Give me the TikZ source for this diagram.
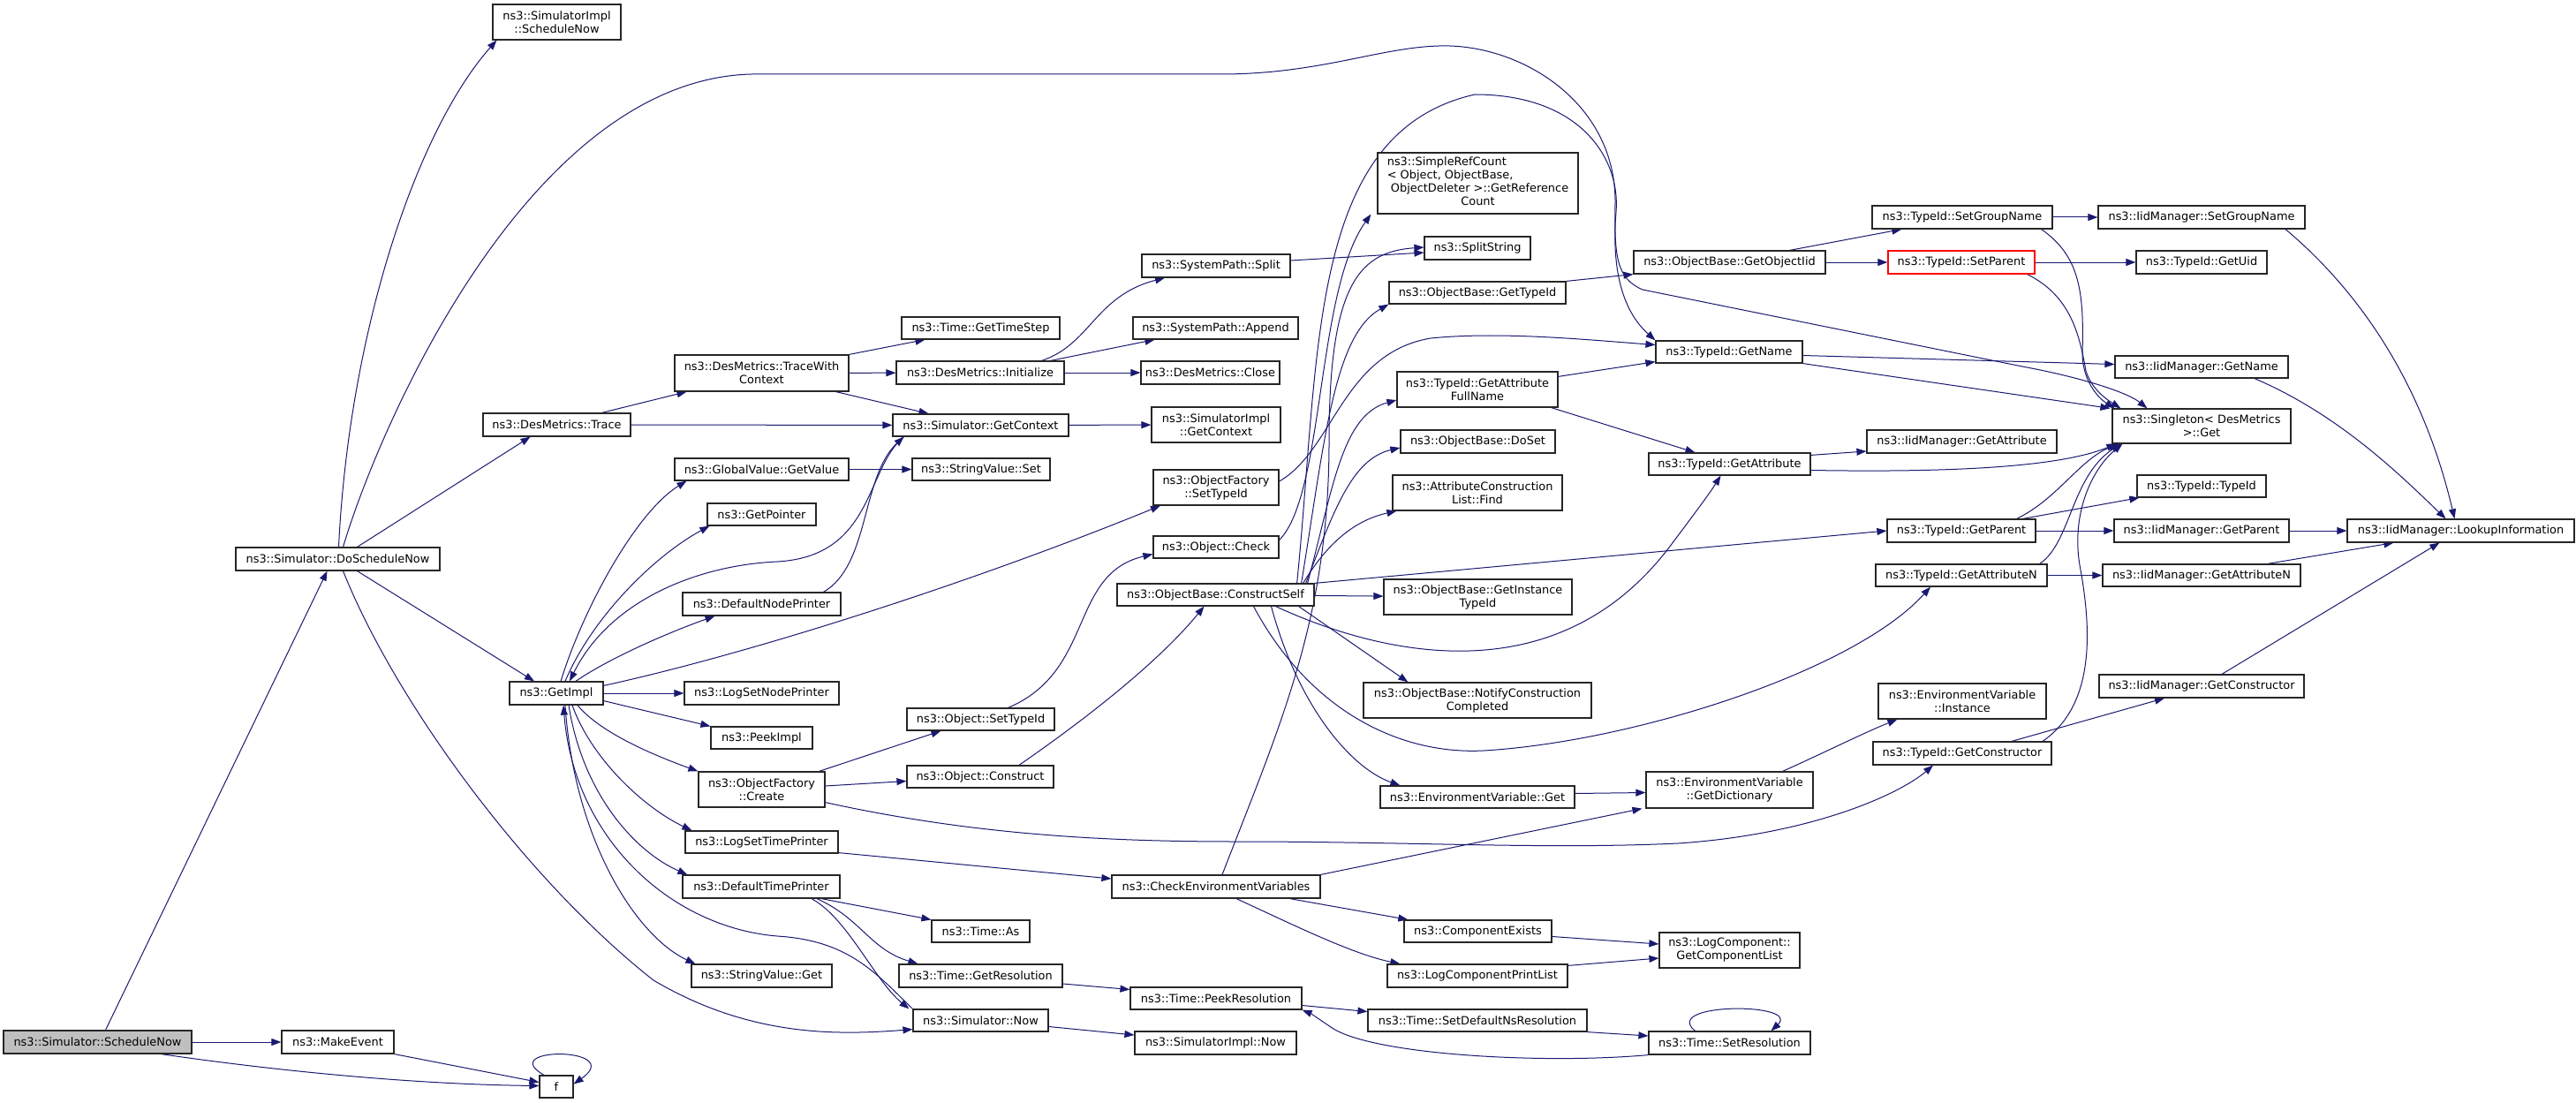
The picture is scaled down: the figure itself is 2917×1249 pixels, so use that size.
\documentclass[tikz,border=0pt]{standalone}
\usepackage{fontspec}
\newfontfamily\nodefont{DejaVu Sans}
\usetikzlibrary{arrows.meta,calc}
\definecolor{ecol}{HTML}{191970}
\definecolor{gfill}{HTML}{BFBFBF}
\pgfdeclarelayer{bg}
\pgfsetlayers{bg,main}
\tikzset{
  box/.style={draw=black!85, line width=1.2pt, fill=white, inner sep=1pt, align=center,
    font={\nodefont\fontsize{12.9}{15}\selectfont}},
  edg/.style={draw=ecol, line width=1pt, -{Triangle[length=11pt,width=8pt]}}
}
\newcommand\bx[7][]{\node[box,#1,minimum width={#5-#3},minimum height={#6-#4}] (#2) at ({(#3+#5)/2},{(#4+#6)/2}) {#7};}
\begin{document}
\begin{tikzpicture}[x=1pt,y=-1pt]
\useasboundingbox (0,0) rectangle (2917,1249);
% nodes
\bx[fill=gfill]{sn}{4}{1167}{217}{1193}{ns3::Simulator::ScheduleNow}
\bx{dsn}{267}{620}{498}{646}{ns3::Simulator::DoScheduleNow}
\bx{sisn}{558}{5}{703}{45}{ns3::SimulatorImpl\\::ScheduleNow}
\bx{trace}{547}{468}{714}{494}{ns3::DesMetrics::Trace}
\bx{getimpl}{577}{772}{683}{798}{ns3::GetImpl}
\bx{mkev}{319}{1167}{446}{1193}{ns3::MakeEvent}
\bx{fnode}{611}{1218}{649}{1243}{f}
\bx{twc}{764}{402}{961}{443}{ns3::DesMetrics::TraceWith\\Context}
\bx{gts}{1021}{359}{1200}{384}{ns3::Time::GetTimeStep}
\bx{init}{1015}{409}{1205}{435}{ns3::DesMetrics::Initialize}
\bx{split}{1293}{288}{1461}{314}{ns3::SystemPath::Split}
\bx{append}{1283}{359}{1470}{384}{ns3::SystemPath::Append}
\bx{close}{1292}{409}{1449}{435}{ns3::DesMetrics::Close}
\bx{sgc}{1011}{469}{1210}{494}{ns3::Simulator::GetContext}
\bx{sigc}{1304}{461}{1450}{501}{ns3::SimulatorImpl\\::GetContext}
\bx{gvgv}{764}{519}{961}{544}{ns3::GlobalValue::GetValue}
\bx{svs}{1033}{519}{1189}{544}{ns3::StringValue::Set}
\bx{gp}{801}{570}{924}{595}{ns3::GetPointer}
\bx{ofst}{1306}{532}{1448}{572}{ns3::ObjectFactory\\::SetTypeId}
\bx{ochk}{1306}{607}{1448}{632}{ns3::Object::Check}
\bx{cs}{1265}{661}{1488}{686}{ns3::ObjectBase::ConstructSelf}
\bx{dnp}{773}{671}{952}{697}{ns3::DefaultNodePrinter}
\bx{lsnp}{775}{772}{950}{798}{ns3::LogSetNodePrinter}
\bx{ost}{1027}{802}{1194}{827}{ns3::Object::SetTypeId}
\bx{peek}{805}{823}{920}{848}{ns3::PeekImpl}
\bx{ofc}{791}{874}{934}{914}{ns3::ObjectFactory\\::Create}
\bx{oc}{1027}{867}{1193}{892}{ns3::Object::Construct}
\bx{lstp}{776}{941}{949}{966}{ns3::LogSetTimePrinter}
\bx{dtp}{773}{991}{951}{1017}{ns3::DefaultTimePrinter}
\bx{cev}{1259}{991}{1495}{1017}{ns3::CheckEnvironmentVariables}
\bx{tas}{1055}{1042}{1166}{1067}{ns3::Time::As}
\bx{svg}{783}{1092}{942}{1118}{ns3::StringValue::Get}
\bx{tgr}{1018}{1092}{1203}{1118}{ns3::Time::GetResolution}
\bx{tpr}{1280}{1118}{1474}{1143}{ns3::Time::PeekResolution}
\bx{snow}{1034}{1143}{1187}{1168}{ns3::Simulator::Now}
\bx{sinow}{1285}{1168}{1468}{1194}{ns3::SimulatorImpl::Now}
\bx{src}{1560}{173}{1787}{242}{\begin{tabular}{@{}l@{}}ns3::SimpleRefCount\\{}< Object, ObjectBase,\\ \ ObjectDeleter >::GetReference\\\multicolumn{1}{@{}c@{}}{Count}\end{tabular}}
\bx{ss}{1613}{268}{1733}{294}{ns3::SplitString}
\bx{obgt}{1573}{319}{1773}{344}{ns3::ObjectBase::GetTypeId}
\bx{goi}{1850}{284}{2067}{310}{ns3::ObjectBase::GetObjectIid}
\bx{tsgn}{2120}{233}{2324}{259}{ns3::TypeId::SetGroupName}
\bx[draw=red]{tsp}{2138}{284}{2304}{310}{ns3::TypeId::SetParent}
\bx{tgn}{1875}{386}{2041}{411}{ns3::TypeId::GetName}
\bx{isgn}{2376}{233}{2610}{259}{ns3::IidManager::SetGroupName}
\bx{tgu}{2419}{284}{2567}{310}{ns3::TypeId::GetUid}
\bx{ign}{2395}{403}{2591}{428}{ns3::IidManager::GetName}
\bx{sing}{2392}{463}{2594}{502}{ns3::Singleton< DesMetrics\\>::Get}
\bx{iga}{2114}{487}{2329}{513}{ns3::IidManager::GetAttribute}
\bx{tti}{2420}{538}{2566}{563}{ns3::TypeId::TypeId}
\bx{tgp}{2137}{588}{2305}{614}{ns3::TypeId::GetParent}
\bx{igp}{2394}{588}{2592}{614}{ns3::IidManager::GetParent}
\bx{li}{2658}{588}{2915}{614}{ns3::IidManager::LookupInformation}
\bx{tgan}{2124}{639}{2318}{664}{ns3::TypeId::GetAttributeN}
\bx{igan}{2381}{639}{2605}{664}{ns3::IidManager::GetAttributeN}
\bx{evi}{2127}{774}{2317}{814}{ns3::EnvironmentVariable\\::Instance}
\bx{igc}{2377}{764}{2609}{790}{ns3::IidManager::GetConstructor}
\bx{tgc}{2121}{840}{2323}{866}{ns3::TypeId::GetConstructor}
\bx{tga}{1867}{513}{2050}{538}{ns3::TypeId::GetAttribute}
\bx{gafn}{1582}{421}{1764}{461}{ns3::TypeId::GetAttribute\\FullName}
\bx{dos}{1586}{487}{1761}{513}{ns3::ObjectBase::DoSet}
\bx{acl}{1577}{538}{1769}{578}{ns3::AttributeConstruction\\List::Find}
\bx{git}{1567}{656}{1780}{696}{ns3::ObjectBase::GetInstance\\TypeId}
\bx{ncc}{1544}{773}{1802}{813}{ns3::ObjectBase::NotifyConstruction\\Completed}
\bx{evg}{1563}{890}{1783}{915}{ns3::EnvironmentVariable::Get}
\bx{gd}{1864}{874}{2053}{915}{ns3::EnvironmentVariable\\::GetDictionary}
\bx{ce}{1590}{1042}{1757}{1067}{ns3::ComponentExists}
\bx{lcpl}{1571}{1092}{1775}{1118}{ns3::LogComponentPrintList}
\bx{gcl}{1879}{1056}{2038}{1096}{ns3::LogComponent::\\GetComponentList}
\bx{sdnr}{1549}{1143}{1797}{1168}{ns3::Time::SetDefaultNsResolution}
\bx{tsr}{1867}{1168}{2050}{1194}{ns3::Time::SetResolution}
% edges
\begin{pgfonlayer}{bg}
\draw[edg] ([xshift=9]sn.north) -- ([xshift=-12]dsn.south);
\draw[edg] (sn) -- (mkev);
\draw[edg] ([xshift=-35]sn.south east) .. controls (330,1215) and (480,1228) .. ($(fnode.west)+(0,-1)$);
\draw[edg] (mkev.south east) -- ($(fnode.west)+(0,-5)$);
\draw[edg] ([xshift=-14]fnode.north) .. controls (560,1185) and (710,1185) .. ($(fnode.east)+(0,-3)$);
\draw[edg] ([xshift=1]dsn.north) .. controls (395,380) and (470,150) .. ([xshift=5]sisn.south west);
\draw[edg] ([xshift=6]dsn.north) .. controls (430,480) and (600,90) .. (851,84) -- (1382,84)
  .. controls (1500,84) and (1570,50) .. (1642,52)
  .. controls (1730,55) and (1830,120) .. (1829,230)
  .. controls (1828,290) and (1830,315) .. (1860,328) -- (2290,415)
  .. controls (2360,428) and (2410,445) .. ([xshift=40]sing.north west);
\draw[edg] ([xshift=22]dsn.north) -- ([xshift=-30]trace.south);
\draw[edg] ([xshift=22]dsn.south) -- ([xshift=-25]getimpl.north);
\draw[edg] ([xshift=6]dsn.south) .. controls (450,800) and (600,1000) .. (740,1110)
  .. controls (850,1175) and (950,1172) .. ($(snow.south west)+(0,-3)$);
\draw[edg] ([xshift=51]trace.north) -- ([xshift=-85]twc.south);
\draw[edg] (trace) -- (sgc);
\draw[edg] (twc.north east) -- ([xshift=-63]gts.south);
\draw[edg] (twc) -- (init);
\draw[edg] ([xshift=-15]twc.south east) -- ([xshift=-59]sgc.north);
\draw[edg] ([xshift=-26]init.north east) .. controls (1235,390) and (1240,335) .. ([xshift=-58]split.south);
\draw[edg] ([xshift=-16]init.north east) -- ([xshift=-69]append.south);
\draw[edg] (init) -- (close);
\draw[edg] (sgc) -- (sigc);
\draw[edg] (gvgv) -- (svs);
\draw[edg] ([xshift=-87]sgc.south) .. controls (980,530) and (990,630) .. (880,636)
  .. controls (790,640) and (690,680) .. ([xshift=15]getimpl.north);
\draw[edg] ([xshift=70]dnp.north) .. controls (985,640) and (975,540) .. ([xshift=-87]sgc.south);
\draw[edg] ([xshift=5]getimpl.north) .. controls (660,690) and (720,580) .. ([xshift=-85]gvgv.south);
\draw[edg] ([xshift=10]getimpl.north) .. controls (670,700) and (740,630) .. ([xshift=3]gp.south west);
\draw[edg] ([xshift=22]getimpl.north) .. controls (690,745) and (760,715) .. ([xshift=-53]dnp.south);
\draw[edg] ($(getimpl.north east)+(0,5)$) .. controls (850,740) and (1100,660) .. ([xshift=-63]ofst.south);
\draw[edg] (getimpl) -- (lsnp);
\draw[edg] ($(getimpl.south east)+(0,-5)$) -- (peek.north west);
\draw[edg] ([xshift=24]getimpl.south) .. controls (680,830) and (740,855) .. (ofc.north west);
\draw[edg] ([xshift=18]getimpl.south) .. controls (670,860) and (730,915) .. ([xshift=8]lstp.north west);
\draw[edg] ([xshift=14]getimpl.south) .. controls (660,900) and (720,965) .. ([xshift=6]dtp.north west);
\draw[edg] ([xshift=10]getimpl.south) .. controls (650,950) and (720,1060) .. ([xshift=5]svg.north west);
\draw[edg] (snow.north west) .. controls (990,1100) and (960,1065) .. (880,1060)
  .. controls (760,1050) and (650,950) .. ([xshift=8]getimpl.south);
\draw[edg] ([xshift=57]dtp.south) .. controls (960,1040) and (990,1110) .. ([xshift=-4]snow.north west);
\draw[edg] ([xshift=68]dtp.south) -- (tas.north west);
\draw[edg] ([xshift=63]dtp.south) .. controls (975,1040) and (985,1075) .. ([xshift=22]tgr.north west);
\draw[edg] ($(tgr.east)+(0,9)$) -- ($(tpr.west)+(0,-10)$);
\draw[edg] ($(snow.east)+(0,7)$) -- ($(sinow.west)+(0,-9)$);
\draw[edg] ([xshift=65]ofc.north) -- ([xshift=-45]ost.south);
\draw[edg] ($(ofc.east)+(0,-4)$) -- ($(oc.west)+(0,5)$);
\draw[edg] ($(ofc.south east)+(0,-6)$) .. controls (1100,945) and (1250,953) .. (1400,953)
  .. controls (1600,953) and (1750,962) .. (1900,955)
  .. controls (2050,945) and (2150,900) .. ([xshift=-33]tgc.south);
\draw[edg] ([xshift=44]oc.north) .. controls (1250,800) and (1320,740) .. ([xshift=-13]cs.south);
\draw[edg] ([xshift=31]ost.north) .. controls (1240,760) and (1210,650) .. ($(ochk.west)+(0,8)$);
\draw[edg] ($(ochk.east)+(0,-8)$) .. controls (1500,560) and (1490,330) .. ([xshift=-7]src.south west);
\draw[edg] ([xshift=7]cev.north) .. controls (1450,820) and (1505,700) .. (1505,500)
  .. controls (1505,320) and (1540,285) .. ($(ss.west)+(0,-1)$);
\draw[edg] ($(split.east)+(0,-6)$) -- ($(ss.west)+(0,5)$);
\draw[edg] (cev.north east) -- ([xshift=-4]gd.south west);
\draw[edg] ([xshift=-35]cev.south east) -- ([xshift=5]ce.north west);
\draw[edg] ([xshift=23]cev.south) .. controls (1460,1045) and (1530,1080) .. ([xshift=15]lcpl.north west);
\draw[edg] ($(lstp.south east)+(0,-1)$) -- ($(cev.west)+(0,-9)$);
\draw[edg] ($(evg.east)+(0,-4)$) -- ($(gd.west)+(0,3)$);
\draw[edg] ([xshift=60]gd.north) .. controls (2060,855) and (2110,830) .. ([xshift=22]evi.south west);
\draw[edg] ($(ce.east)+(0,6)$) -- ($(gcl.west)+(0,-7)$);
\draw[edg] ($(lcpl.north east)+(0,2)$) -- ($(gcl.west)+(0,9)$);
\draw[edg] ($(tpr.east)+(0,8)$) -- ($(sdnr.west)+(0,-10)$);
\draw[edg] (sdnr.south east) -- ($(tsr.west)+(0,-8)$);
\draw[edg] ([xshift=-39]tsr.north) .. controls (1880,1135) and (2040,1135) .. ([xshift=47]tsr.north);
\draw[edg] (tsr.south west) .. controls (1750,1205) and (1560,1195) .. (1510,1165)
  .. controls (1495,1155) and (1485,1148) .. (tpr.south east);
\draw[edg] ([xshift=63]cs.south) .. controls (1470,800) and (1530,870) .. ([xshift=23]evg.north west);
\draw[edg] ([xshift=43]cs.south) .. controls (1480,800) and (1580,855) .. (1680,850)
  .. controls (1850,840) and (2100,760) .. ([xshift=-35]tgan.south);
\draw[edg] ([xshift=-18]cs.south east) -- ([xshift=51]ncc.north west);
\draw[edg] (cs) -- (git);
\draw[edg] (cs.north east) -- (tgp.west);
\draw[edg] ([xshift=68]cs.south) .. controls (1560,740) and (1760,790) .. (1890,620)
  .. controls (1920,580) and (1935,560) .. ([xshift=-10]tga.south);
\draw[edg] ([xshift=-13]cs.north east) .. controls (1500,620) and (1530,590) .. ([xshift=5]acl.south west);
\draw[edg] ([xshift=-10]cs.north east) .. controls (1510,580) and (1530,520) .. ($(dos.west)+(0,7)$);
\draw[edg] ([xshift=-8]cs.north east) .. controls (1510,550) and (1520,470) .. ($(gafn.west)+(0,12)$);
\draw[edg] ([xshift=-15]cs.north east) .. controls (1500,500) and (1510,380) .. (obgt.south west);
\draw[edg] ([xshift=-20]cs.north east) .. controls (1495,400) and (1480,150) .. (1670,107)
  .. controls (1790,107) and (1835,180) .. (1830,240)
  .. controls (1825,300) and (1835,350) .. (tgn.north west);
\draw[edg] ($(ofst.east)+(0,-7)$) .. controls (1510,510) and (1520,400) .. (1620,383)
  .. controls (1700,375) and (1800,385) .. ($(tgn.west)+(0,-8)$);
\draw[edg] ($(gafn.north east)+(0,6)$) -- ($(tgn.south west)+(0,-2)$);
\draw[edg] ([xshift=-8]gafn.south east) -- ([xshift=-39]tga.north);
\draw[edg] (obgt.north east) -- (goi.south west);
\draw[edg] ([xshift=-41]goi.north east) -- ([xshift=34]tsgn.south west);
\draw[edg] (goi) -- (tsp);
\draw[edg] (tsgn) -- (isgn);
\draw[edg] (tsp) -- (tgu);
\draw[edg] ([xshift=-13]tsgn.south east) .. controls (2355,290) and (2360,330) .. (2358,400)
  .. controls (2358,430) and (2375,450) .. ([xshift=3]sing.north west);
\draw[edg] ([xshift=-9]tsp.south east) .. controls (2345,335) and (2355,380) .. (2362,420)
  .. controls (2368,440) and (2385,452) .. ([xshift=10]sing.north west);
\draw[edg] (tgn.south east) -- ([xshift=-2]sing.north west);
\draw[edg] ($(tgn.east)+(0,4)$) -- ($(ign.west)+(0,-3)$);
\draw[edg] ([xshift=60]ign.south) .. controls (2650,470) and (2720,540) .. ([xshift=-17]li.north);
\draw[edg] ([xshift=95]isgn.south) .. controls (2660,320) and (2740,420) .. ([xshift=-7]li.north);
\draw[edg] ($(tga.north east)+(0,3)$) -- ($(iga.west)+(0,11)$);
\draw[edg] ($(tga.east)+(0,7)$) .. controls (2200,535) and (2330,530) .. ([xshift=5]sing.south west);
\draw[edg] ([xshift=-15]tgp.north east) -- ([xshift=3]tti.south west);
\draw[edg] ([xshift=-22]tgp.north east) .. controls (2330,565) and (2355,520) .. ([xshift=8]sing.south west);
\draw[edg] (tgp) -- (igp);
\draw[edg] (igp) -- (li);
\draw[edg] (tgan) -- (igan);
\draw[edg] ([xshift=-9]tgan.north east) .. controls (2345,615) and (2345,540) .. ([xshift=10]sing.south west);
\draw[edg] ([xshift=-38]igan.north east) -- ([xshift=53]li.south west);
\draw[edg] ([xshift=23]igc.north) -- ([xshift=105]li.south west);
\draw[edg] ([xshift=56]tgc.north) -- ([xshift=-42]igc.south);
\draw[edg] ([xshift=91]tgc.north) .. controls (2370,800) and (2370,720) .. (2355,640)
  .. controls (2345,580) and (2370,530) .. ([xshift=12]sing.south west);
\end{pgfonlayer}
\end{tikzpicture}
\end{document}
